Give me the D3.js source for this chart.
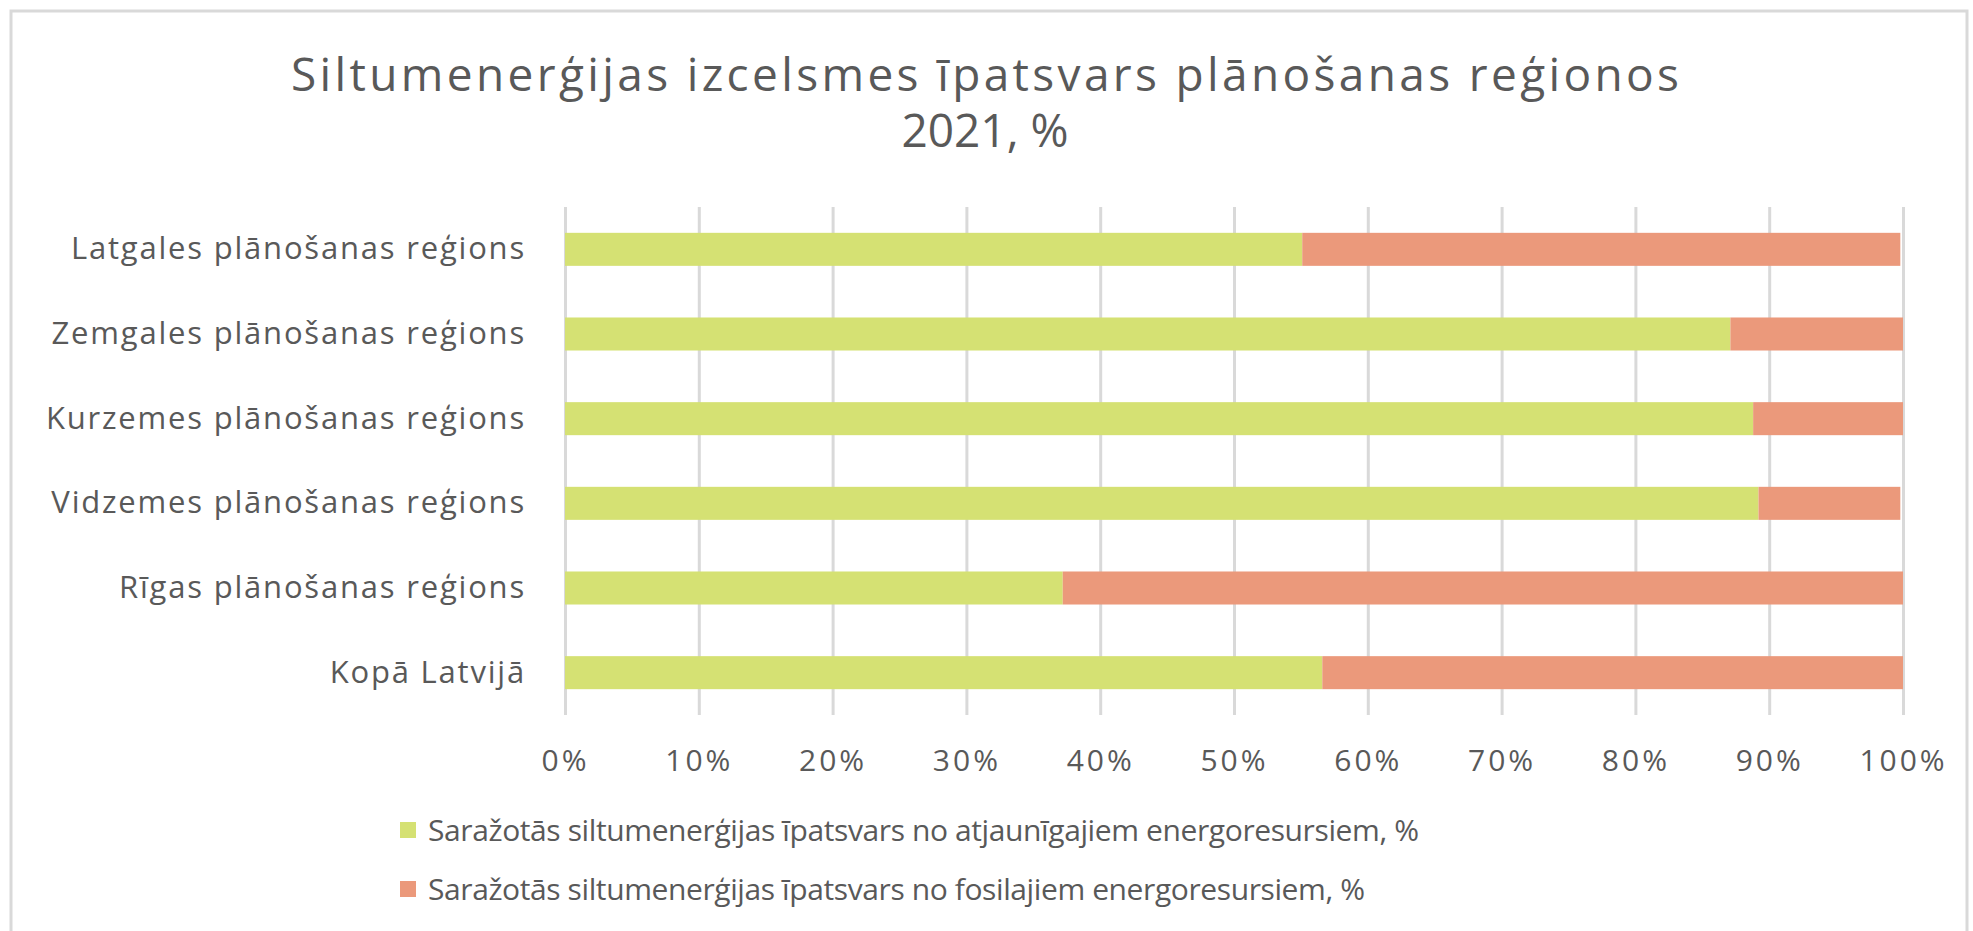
<!DOCTYPE html>
<html>
<head>
<meta charset="utf-8">
<script src="https://cdn.jsdelivr.net/npm/d3@7"></script>
<style>
  body { margin: 0; background: #fff; }
  text { font-family: "Open Sans", sans-serif; fill: #595959; }
</style>
</head>
<body>
<svg id="chart" width="1973" height="931"></svg>
<script>
const regions = [
  "Latgales plānošanas reģions",
  "Zemgales plānošanas reģions",
  "Kurzemes plānošanas reģions",
  "Vidzemes plānošanas reģions",
  "Rīgas plānošanas reģions",
  "Kopā Latvijā"
];
const renewable = [55.1, 87.1, 88.8, 89.2, 37.2, 56.6];
const fossil = [44.7, 12.9, 11.2, 10.6, 62.8, 43.4];
const seriesNames = [
  "Saražotās siltumenerģijas īpatsvars no atjaunīgajiem energoresursiem, %",
  "Saražotās siltumenerģijas īpatsvars no fosilajiem energoresursiem, %"
];
const xTicks = [0, 10, 20, 30, 40, 50, 60, 70, 80, 90, 100];

const colors = ["#d5e173", "#eb997b"];

const svg = d3.select("#chart");

// chart frame
svg.append("rect")
  .attr("x", 11).attr("y", 11)
  .attr("width", 1956).attr("height", 930)
  .attr("fill", "none")
  .attr("stroke", "#d9d9d9")
  .attr("stroke-width", 3);

// title
const title = svg.append("text")
  .attr("text-anchor", "middle")
  .style("font-size", "46px");
title.append("tspan")
  .attr("x", 985).attr("y", 91)
  .attr("textLength", 1388)
  .attr("lengthAdjust", "spacing")
  .text("Siltumenerģijas izcelsmes īpatsvars plānošanas reģionos");
title.append("tspan")
  .attr("x", 985).attr("y", 147)
  .text("2021, %");

const plot = { left: 565, right: 1903, top: 207, bottom: 715 };

const x = d3.scaleLinear()
  .domain([0, 100])
  .range([plot.left, plot.right]);

const y = d3.scaleBand()
  .domain(regions)
  .range([plot.top, plot.bottom])
  .paddingInner(0.61)
  .paddingOuter(0.305);

// gridlines
svg.append("g")
  .attr("transform", `translate(0,${plot.bottom})`)
  .call(d3.axisBottom(x).tickValues(xTicks).tickSize(-(plot.bottom - plot.top)).tickFormat(""))
  .call(g => g.select(".domain").remove())
  .call(g => g.selectAll("line").attr("stroke", "#d9d9d9").attr("stroke-width", 3));

// x axis labels
svg.append("g")
  .attr("transform", `translate(0,${plot.bottom})`)
  .call(d3.axisBottom(x).tickValues(xTicks).tickSize(0).tickPadding(35).tickFormat(d => d + "%"))
  .call(g => g.select(".domain").remove())
  .call(g => g.selectAll("text")
    .attr("fill", "#595959")
    .style("font-family", "'Open Sans', sans-serif")
    .style("font-size", "30px")
    .style("letter-spacing", "3px"));

// stacked bars
const rows = regions.map((r, i) => ({ region: r, renewable: renewable[i], fossil: fossil[i] }));
const stack = d3.stack().keys(["renewable", "fossil"])(rows);

svg.append("g")
  .selectAll("g")
  .data(stack)
  .join("g")
  .attr("fill", (d, i) => colors[i])
  .selectAll("rect")
  .data(d => d)
  .join("rect")
  .attr("x", d => x(d[0]))
  .attr("width", d => x(d[1]) - x(d[0]))
  .attr("y", d => y(d.data.region))
  .attr("height", y.bandwidth());

// y axis labels
svg.append("g")
  .attr("transform", `translate(${plot.left},0)`)
  .call(d3.axisLeft(y).tickSize(0).tickPadding(39))
  .call(g => g.select(".domain").remove())
  .call(g => g.selectAll("text")
    .attr("fill", "#595959")
    .style("font-family", "'Open Sans', sans-serif")
    .style("font-size", "31px")
    .style("letter-spacing", "1.8px"));

// legend
const legend = svg.append("g");
const legendY = [830, 889];
const legendW = [991, 937];
seriesNames.forEach((name, i) => {
  legend.append("rect")
    .attr("x", 400).attr("y", legendY[i] - 8)
    .attr("width", 16).attr("height", 16)
    .attr("fill", colors[i]);
  legend.append("text")
    .attr("x", 428).attr("y", legendY[i] + 11)
    .attr("textLength", legendW[i])
    .attr("lengthAdjust", "spacing")
    .style("font-size", "30px")
    .text(name);
});
</script>
</body>
</html>
